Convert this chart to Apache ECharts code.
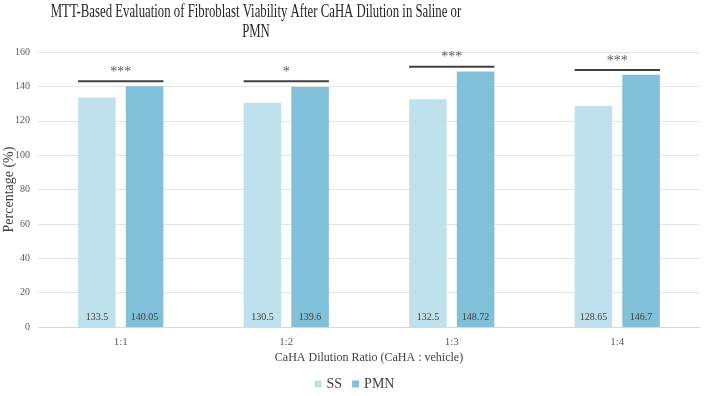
<!DOCTYPE html>
<html>
<head>
<meta charset="utf-8">
<script src="https://cdn.jsdelivr.net/npm/echarts@6/dist/echarts.min.js"></script>
<style>
  html, body { margin: 0; padding: 0; background: #fff; }
  #chart1 { width: 709px; height: 396px; }
</style>
</head>
<body>
<div id="chart1"></div>
<script>
// data
var categories = ['1:1', '1:2', '1:3', '1:4'];
var ssValues = [133.5, 130.5, 132.5, 128.65];
var pmnValues = [140.05, 139.6, 148.72, 146.7];
// significance bars: height (in %) and stars
var sigLevel = [143, 143, 151.4, 149.5];
var sigLabel = ['***', '*', '***', '***'];
var yTicks = [0, 20, 40, 60, 80, 100, 120, 140, 160];

var serif = '"Liberation Serif", "Times New Roman", serif';
var barW = 0.227, barGapR = 0.27;

var chart = echarts.init(document.getElementById('chart1'));

chart.setOption({
  animation: false,
  textStyle: { fontFamily: serif },
  graphic: [{
    type: 'text',
    x: 256,
    y: 2,
    scaleX: 0.71,
    style: {
      text: 'MTT-Based Evaluation of Fibroblast Viability After CaHA Dilution in Saline or\nPMN',
      font: '18px ' + serif,
      fill: '#262626',
      align: 'center',
      verticalAlign: 'top',
      lineHeight: 20
    }
  }],
  grid: { left: 38, right: 9, top: 52, bottom: 69, containLabel: false, outerBoundsMode: 'none' },
  legend: {
    data: ['SS', 'PMN'],
    bottom: 0,
    left: 'center',
    icon: 'rect',
    itemWidth: 7,
    itemHeight: 7,
    itemGap: 10,
    textStyle: { fontSize: 14, color: '#404040', fontFamily: serif }
  },
  xAxis: {
    type: 'category',
    data: categories,
    name: 'CaHA Dilution Ratio (CaHA : vehicle)',
    nameLocation: 'middle',
    nameGap: 25,
    nameMoveOverlap: false,
    nameTextStyle: { fontSize: 12, color: '#404040' },
    axisTick: { show: false },
    axisLine: { lineStyle: { color: '#d9d9d9' } },
    axisLabel: { fontSize: 11, color: '#595959', margin: 10 }
  },
  yAxis: {
    type: 'value',
    min: yTicks[0],
    max: yTicks[yTicks.length - 1],
    interval: 20,
    name: 'Percentage (%)',
    nameLocation: 'middle',
    nameGap: 22,
    nameMoveOverlap: false,
    nameTextStyle: { fontSize: 14, color: '#404040' },
    axisLine: { show: false },
    axisTick: { show: false },
    axisLabel: { fontSize: 10, color: '#595959', margin: 8 },
    splitLine: { lineStyle: { color: '#e3e3e3' } }
  },
  series: [
    {
      name: 'SS',
      type: 'bar',
      data: ssValues,
      barWidth: (barW * 100) + '%',
      barGap: (barGapR * 100) + '%',
      itemStyle: { color: '#bfe1ed' },
      label: {
        show: true,
        position: 'insideBottom',
        distance: 5,
        fontSize: 10,
        color: '#404040'
      }
    },
    {
      name: 'PMN',
      type: 'bar',
      data: pmnValues,
      barWidth: (barW * 100) + '%',
      itemStyle: { color: '#80c1d9' },
      label: {
        show: true,
        position: 'insideBottom',
        distance: 5,
        fontSize: 10,
        color: '#404040'
      }
    },
    {
      name: 'sig',
      type: 'custom',
      data: categories.map(function (c, i) { return [i, sigLevel[i], sigLabel[i]]; }),
      encode: { x: 0, y: 1 },
      z: 5,
      renderItem: function (params, api) {
        var p = api.coord([api.value(0), api.value(1)]);
        var band = api.size([1, 0])[0];
        var half = band * barW * (1 + barGapR / 2);
        var idx = params.dataIndex;
        return {
          type: 'group',
          children: [
            {
              type: 'line',
              shape: { x1: p[0] - half, y1: p[1], x2: p[0] + half, y2: p[1] },
              style: { stroke: '#404040', lineWidth: 2 }
            },
            {
              type: 'text',
              style: {
                text: sigLabel[idx],
                x: p[0],
                y: p[1] - 9,
                align: 'center',
                verticalAlign: 'middle',
                fontSize: 14,
                fontFamily: serif,
                fill: '#595959'
              }
            }
          ]
        };
      }
    }
  ]
});
</script>
</body>
</html>
